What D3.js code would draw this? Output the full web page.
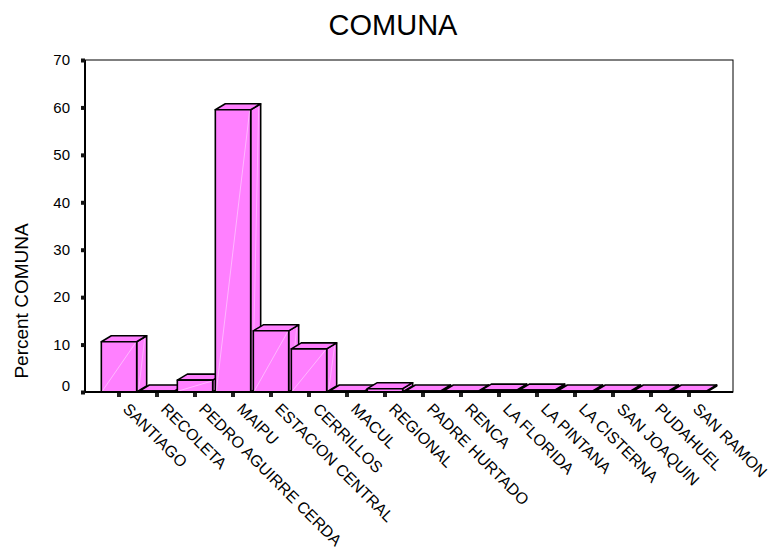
<!DOCTYPE html>
<html>
<head>
<meta charset="utf-8">
<script src="https://cdn.jsdelivr.net/npm/d3@7"></script>
<style>
  html, body { margin: 0; padding: 0; background: #fff; }
  svg { display: block; font-family: "Liberation Sans", Arial, sans-serif; }
</style>
</head>
<body>
<svg id="chart" width="773" height="550"></svg>
<script>
// Percent of respondents by comuna
const categories = [
  "SANTIAGO", "RECOLETA", "PEDRO AGUIRRE CERDA", "MAIPU", "ESTACION CENTRAL",
  "CERRILLOS", "MACUL", "REGIONAL", "PADRE HURTADO", "RENCA", "LA FLORIDA",
  "LA PINTANA", "LA CISTERNA", "SAN JOAQUIN", "PUDAHUEL", "SAN RAMON"
];
const percents = [10.6, 0.2, 2.5, 59.5, 12.9, 9.1, 0.2, 0.7, 0.2, 0.2, 0.4, 0.4, 0.2, 0.2, 0.2, 0.2];
const yTicks = [0, 10, 20, 30, 40, 50, 60, 70];

const svg = d3.select("#chart");
const plot = { left: 85, right: 733, top: 60, bottom: 392 };
const barFill = "#ff80ff";
const depth = { dx: 10, dy: -6 };

const x = d3.scaleBand().domain(categories).range([100, 708]).padding(0);
const y = d3.scaleLinear().domain([0, 70]).range([plot.bottom, plot.top]);
const barW = x.bandwidth() * 0.93;

// Plot frame (thin top/right)
svg.append("rect")
  .attr("x", plot.left).attr("y", plot.top)
  .attr("width", plot.right - plot.left).attr("height", plot.bottom - plot.top)
  .attr("fill", "none").attr("stroke", "#000").attr("stroke-width", 1);

// 3D bars, painted left to right
const bars = svg.append("g");
categories.forEach((c, i) => {
  const cx = x(c) + x.bandwidth() / 2;
  const x0 = cx - barW / 2, x1 = cx + barW / 2;
  const yt = y(percents[i]), yb = y(0);
  const g = bars.append("g");
  const face = (pts) => g.append("path")
    .attr("d", d3.line()(pts) + "Z")
    .attr("fill", barFill)
    .attr("stroke", "#000").attr("stroke-width", 1.6).attr("stroke-linejoin", "round");
  // side face
  face([[x1, yb], [x1 + depth.dx, yb + depth.dy], [x1 + depth.dx, yt + depth.dy], [x1, yt]]);
  // top face
  face([[x0, yt], [x1, yt], [x1 + depth.dx, yt + depth.dy], [x0 + depth.dx, yt + depth.dy]]);
  // front face
  face([[x0, yb], [x1, yb], [x1, yt], [x0, yt]]);
  // highlight streaks
  if (yb - yt > 4) {
    g.append("line").attr("x1", x0 + 1).attr("y1", yb - 1).attr("x2", x1 - 1).attr("y2", yt + 1)
      .attr("stroke", "#fff").attr("stroke-opacity", 0.55).attr("stroke-width", 0.8);
    g.append("line").attr("x1", x1 + 2).attr("y1", yb - 2).attr("x2", x1 + depth.dx - 2).attr("y2", yt + depth.dy + 3)
      .attr("stroke", "#fff").attr("stroke-opacity", 0.45).attr("stroke-width", 0.8);
  }
});

// Heavy left axis and baseline
svg.append("line").attr("x1", plot.left).attr("x2", plot.left)
  .attr("y1", plot.top).attr("y2", plot.bottom + 1)
  .attr("stroke", "#000").attr("stroke-width", 2);
svg.append("line").attr("x1", plot.left).attr("x2", plot.right)
  .attr("y1", plot.bottom).attr("y2", plot.bottom)
  .attr("stroke", "#000").attr("stroke-width", 2);

// Y axis: square tick marks and labels
const yAxis = d3.axisLeft(y).tickValues(yTicks).tickSize(0).tickPadding(15);
const yg = svg.append("g").attr("transform", `translate(${plot.left},0)`).call(yAxis);
yg.select(".domain").remove();
yg.selectAll(".tick text")
  .attr("font-size", 15).attr("fill", "#000")
  .attr("font-family", "Liberation Sans, Arial, sans-serif")
  .attr("dy", d => d === 0 ? "-0.08em" : "0.32em");
yg.selectAll(".tick").append("rect")
  .attr("x", -4).attr("y", -2).attr("width", 4).attr("height", 4).attr("fill", "#111");

// X axis: square tick marks and slanted labels
const xAxis = d3.axisBottom(x).tickSize(0).tickPadding(0);
const xg = svg.append("g").attr("transform", `translate(0,${plot.bottom})`).call(xAxis);
xg.select(".domain").remove();
xg.selectAll(".tick").append("rect")
  .attr("x", -2).attr("y", 1).attr("width", 4).attr("height", 4).attr("fill", "#222");
xg.selectAll(".tick text")
  .attr("font-size", 16).attr("fill", "#000")
  .attr("font-family", "Liberation Sans, Arial, sans-serif")
  .attr("text-anchor", "start")
  .attr("y", 0).attr("dy", 0)
  .attr("transform", "translate(3,18) rotate(45)");

// Titles
svg.append("text").attr("x", 393).attr("y", 35)
  .attr("text-anchor", "middle").attr("font-size", 29).attr("fill", "#000")
  .text("COMUNA");
svg.append("text")
  .attr("transform", "translate(28,301) rotate(-90)")
  .attr("text-anchor", "middle").attr("font-size", 19).attr("fill", "#000")
  .text("Percent COMUNA");
</script>
</body>
</html>
